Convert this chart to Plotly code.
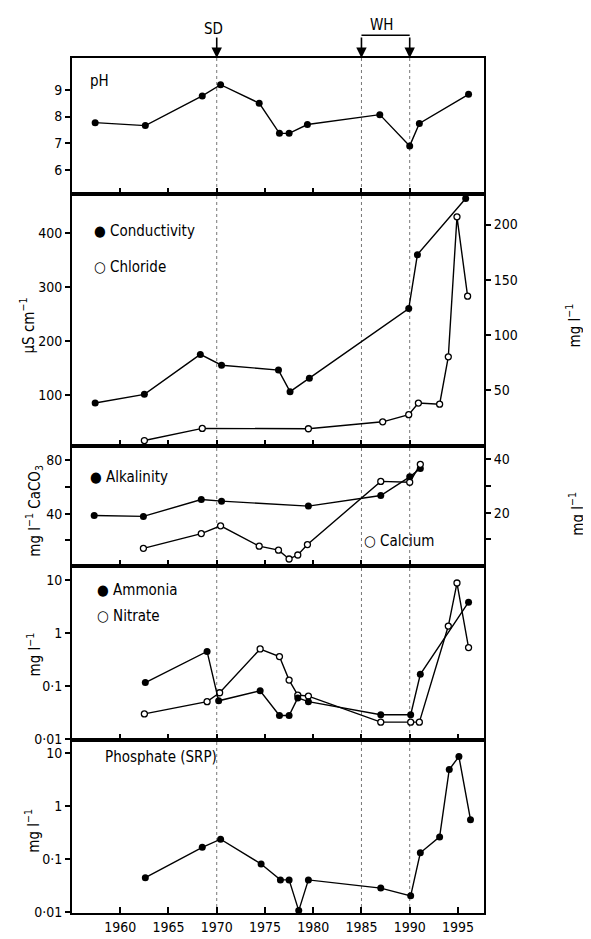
import plotly.graph_objects as go

# ---------------- data ----------------
ph_years = [1957.4, 1962.6, 1968.5, 1970.4, 1974.4, 1976.5, 1977.5, 1979.4, 1986.9, 1990.0, 1991.0, 1996.1]
ph_values = [7.77, 7.66, 8.77, 9.19, 8.5, 7.37, 7.37, 7.7, 8.07, 6.9, 7.74, 8.83]

cond_years = [1957.4, 1962.5, 1968.3, 1970.5, 1976.4, 1977.6, 1979.6, 1989.9, 1990.8, 1995.8]
cond_values = [85, 101, 175, 155, 146, 106, 131, 260, 360, 464]

chloride_years = [1962.5, 1968.5, 1979.5, 1987.2, 1989.9, 1990.9, 1993.1, 1994.0, 1994.9, 1996.0]
chloride_values = [4, 15, 14.7, 21, 27.5, 38, 37, 80, 207, 135]

alk_years = [1957.3, 1962.4, 1968.4, 1970.5, 1979.5, 1987.0, 1990.0, 1991.1]
alk_values = [38.7, 38, 50.6, 49.4, 45.7, 53.6, 67.6, 73.8]

calcium_years = [1962.4, 1968.4, 1970.4, 1974.4, 1976.4, 1977.5, 1978.4, 1979.4, 1987.0, 1990.0, 1991.1]
calcium_values = [6.7, 12.2, 15.1, 7.5, 6.0, 2.7, 4.2, 8.1, 31.7, 31.4, 38.1]

ammonia_years = [1962.6, 1969.0, 1970.2, 1974.5, 1976.5, 1977.5, 1978.4, 1979.5, 1987.0, 1990.1, 1991.1, 1996.1]
ammonia_values = [0.117, 0.45, 0.053, 0.082, 0.028, 0.028, 0.06, 0.051, 0.029, 0.029, 0.167, 3.8]

nitrate_years = [1962.5, 1969.0, 1970.3, 1974.5, 1976.5, 1977.5, 1978.4, 1979.5, 1987.0, 1990.1, 1991.0, 1994.0, 1994.9, 1996.1]
nitrate_values = [0.030, 0.051, 0.075, 0.5, 0.36, 0.13, 0.068, 0.065, 0.021, 0.021, 0.021, 1.35, 8.7, 0.53]

phos_years = [1962.6, 1968.5, 1970.4, 1974.6, 1976.6, 1977.5, 1978.5, 1979.5, 1987.0, 1990.1, 1991.1, 1993.1, 1994.1, 1995.1, 1996.3]
phos_values = [0.044, 0.165, 0.235, 0.08, 0.04, 0.04, 0.0105, 0.04, 0.028, 0.02, 0.13, 0.26, 4.9, 8.6, 0.55]

year_ticks_top = [1960, 1965, 1970, 1975, 1980, 1985, 1990]
year_ticks_all = [1960, 1965, 1970, 1975, 1980, 1985, 1990, 1995]
event_years = [1970, 1985, 1990]

# ---------------- layout geometry ----------------
W, H = 591, 939
L, R, T, B = 64, 115, 50, 26
PW, PH = W - L - R, H - T - B
BOT = H - B


def px(xp, yp):
    return (xp - L) / PW, (BOT - yp) / PH


def dom(top_px, bot_px):
    return [(BOT - bot_px) / PH, (BOT - top_px) / PH]


FONT = "DejaVu Sans Condensed, Liberation Sans Narrow, Arial Narrow, sans-serif"
XR = [1955.0, 1997.7]
LINE = dict(color="black", width=1.4)

fig = go.Figure()


def filled(x, y, xa, ya):
    return go.Scatter(x=x, y=y, xaxis=xa, yaxis=ya, mode="lines+markers",
                      line=LINE, cliponaxis=False,
                      marker=dict(symbol="circle", size=7, color="black"),
                      showlegend=False, hoverinfo="x+y")


def hollow(x, y, xa, ya):
    return go.Scatter(x=x, y=y, xaxis=xa, yaxis=ya, mode="lines+markers",
                      line=LINE, cliponaxis=False,
                      marker=dict(symbol="circle", size=6, color="white",
                                  line=dict(color="black", width=1.3)),
                      showlegend=False, hoverinfo="x+y")


fig.add_trace(filled(ph_years, ph_values, "x", "y"))
fig.add_trace(filled(cond_years, cond_values, "x2", "y2"))
fig.add_trace(hollow(chloride_years, chloride_values, "x2", "y6"))
fig.add_trace(filled(alk_years, alk_values, "x3", "y3"))
fig.add_trace(hollow(calcium_years, calcium_values, "x3", "y7"))
fig.add_trace(hollow(nitrate_years, nitrate_values, "x4", "y4"))
fig.add_trace(filled(ammonia_years, ammonia_values, "x4", "y4"))
fig.add_trace(filled(phos_years, phos_values, "x5", "y5"))

panels = [(50, 187), (187, 442), (442, 563), (563, 738), (738, 913)]

tickfont = dict(family=FONT, size=14, color="black")

xcommon = dict(range=XR, showline=True, linecolor="black", linewidth=2, mirror=True,
               ticks="inside", ticklen=6, tickwidth=1.5, tickcolor="black",
               showgrid=False, zeroline=False, tickfont=tickfont)
ycommon = dict(showline=True, linecolor="black", linewidth=2, mirror=True,
               ticks="outside", ticklen=5, tickwidth=1.5, tickcolor="black",
               showgrid=False, zeroline=False, tickfont=tickfont)

layout = dict(
    width=W, height=H, margin=dict(l=L, r=R, t=T, b=B),
    paper_bgcolor="white", plot_bgcolor="white", showlegend=False,
    font=dict(family=FONT, size=14, color="black"),
)

names = ["", "2", "3", "4", "5"]
for i, n in enumerate(names):
    d = dom(*panels[i])
    xa = dict(xcommon, domain=[0, 1], anchor="y" + n)
    if i < 3:
        xa.update(tickvals=year_ticks_top, showticklabels=False)
    elif i == 3:
        xa.update(tickvals=year_ticks_all, showticklabels=False)
    else:
        xa.update(tickvals=year_ticks_all, showticklabels=True)
    layout["xaxis" + n] = xa
    layout["yaxis" + n] = dict(ycommon, domain=d, anchor="x" + n)

layout["yaxis"].update(range=[5.11, 10.19], tickvals=[6, 7, 8, 9])
layout["yaxis2"].update(range=[4.5, 473], tickvals=[100, 200, 300, 400], mirror=False)
layout["yaxis6"] = dict(ycommon, domain=dom(*panels[1]), anchor="x2", overlaying="y2",
                        side="right", range=[-1.3, 228], tickvals=[50, 100, 150, 200])
layout["yaxis3"].update(range=[0.7, 90.4], tickvals=[20, 40, 60, 80],
                        ticktext=["", "40", "", "80"], mirror=False)
layout["yaxis7"] = dict(ycommon, domain=dom(*panels[2]), anchor="x3", overlaying="y3",
                        side="right", range=[0, 44.8], tickvals=[10, 20, 30, 40],
                        ticktext=["", "20", "", "40"])
log_vals = [0.01, 0.1, 1, 10]
log_text = ["0·01", "0·1", "1", "10"]
layout["yaxis4"].update(type="log", range=[-2.006, 1.255], tickvals=log_vals, ticktext=log_text)
layout["yaxis5"].update(type="log", range=[-2.024, 1.255], tickvals=log_vals, ticktext=log_text)

fig.update_layout(**layout)

# dotted event lines
for yr in event_years:
    fig.add_shape(type="line", xref="x5", yref="paper", x0=yr, x1=yr, y0=0, y1=1,
                  line=dict(color="#777", width=1, dash="dot"), layer="below")

ann = []


def text(xp, yp, s, size=15, anchor="left", angle=0):
    x, y = px(xp, yp)
    ann.append(dict(x=x, y=y, xref="paper", yref="paper", text=s, showarrow=False,
                    xanchor=anchor, yanchor="middle", textangle=angle,
                    font=dict(family=FONT, size=size, color="black")))


text(80, 73, "pH")
text(84, 225, "● Conductivity")
text(84, 261, "○ Chloride")
text(80, 473, "● Alkalinity")
text(354, 538, "○ Calcium")
text(87, 587, "● Ammonia")
text(87, 613, "○ Nitrate")
text(95, 756, "Phosphate (SRP)")

text(20, 320, "μS cm<sup>−1</sup>", anchor="center", angle=-90)
text(566, 320, "mg l<sup>−1</sup>", anchor="center", angle=-90)
text(26, 507, "mg l<sup>−1</sup> CaCO<sub>3</sub>", anchor="center", angle=-90)
text(568, 510, "mg l<sup>−1</sup>", anchor="center", angle=-90)
text(26, 652, "mg l<sup>−1</sup>", anchor="center", angle=-90)
text(24, 830, "mg l<sup>−1</sup>", anchor="center", angle=-90)

# SD / WH markers
text(205, 21, "SD", anchor="center")
text(374, 17, "WH", anchor="center")
for yr in event_years:
    _, ytop = px(0, 50)
    ann.append(dict(x=yr, y=ytop, xref="x", yref="paper", ax=0, ay=-22, text="",
                    showarrow=True, arrowhead=2, arrowsize=1.3, arrowwidth=1.6,
                    arrowcolor="black"))
fig.update_layout(annotations=ann)

_, ybr = px(0, 27)
fig.add_shape(type="line", xref="x", yref="paper", x0=1985, x1=1990, y0=ybr, y1=ybr,
              line=dict(color="black", width=1.6))

fig.write_html("out.html")
